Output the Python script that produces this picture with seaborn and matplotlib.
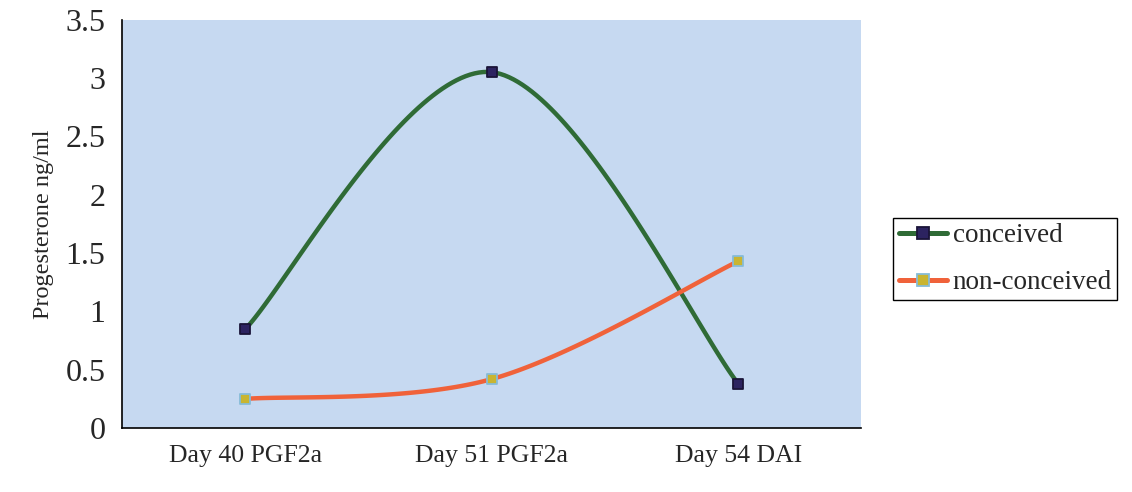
import numpy as np
import pandas as pd
import matplotlib
matplotlib.use("Agg")
import matplotlib.pyplot as plt
from matplotlib.lines import Line2D
import seaborn as sns

# Progesterone levels by sampling day
days = ["Day 40 PGF2a", "Day 51 PGF2a", "Day 54 DAI"]
conceived = [0.85, 3.05, 0.38]
non_conceived = [0.25, 0.42, 1.43]
groups = ["conceived", "non-conceived"]
yticks = [0, 0.5, 1, 1.5, 2, 2.5, 3, 3.5]
ytick_labels = ["0", "0.5", "1", "1.5", "2", "2.5", "3", "3.5"]

line_colors = {"conceived": "#2f6b36", "non-conceived": "#f0623a"}
marker_face = {"conceived": "#2c2360", "non-conceived": "#c9b531"}
marker_edge = {"conceived": "#1a1438", "non-conceived": "#86bcd8"}

sns.set_style("white")
plt.rcParams["font.family"] = ["Liberation Serif", "DejaVu Serif"]

df = pd.DataFrame({
    "day": list(range(len(days))) * 2,
    "value": conceived + non_conceived,
    "group": [groups[0]] * len(days) + [groups[1]] * len(days),
})


def smooth_path(xs, ys, n=60):
    """Bezier smoothing through the given points (spreadsheet-style)."""
    pts = np.column_stack([xs, ys]).astype(float)
    ext = np.vstack([pts[0], pts, pts[-1]])
    out = []
    t = np.linspace(0, 1, n)[:, None]
    for i in range(len(pts) - 1):
        p0, p1 = ext[i + 1], ext[i + 2]
        c1 = p0 + (ext[i + 2] - ext[i]) / 6.0
        c2 = p1 - (ext[i + 3] - ext[i + 1]) / 6.0
        seg = ((1 - t) ** 3) * p0 + 3 * ((1 - t) ** 2) * t * c1 \
            + 3 * (1 - t) * t ** 2 * c2 + t ** 3 * p1
        out.append(seg if i == 0 else seg[1:])
    seg = np.vstack(out)
    return seg[:, 0], seg[:, 1]


fig = plt.figure(figsize=(11.32, 4.92), dpi=100)
ax = fig.add_axes([0.108, 0.13, 0.653, 0.83])
ax.set_facecolor("#c6d9f1")

for g in groups:
    sub = df[df["group"] == g]
    sx, sy = smooth_path(sub["day"].values, sub["value"].values)
    sns.lineplot(x=sx, y=sy, ax=ax, color=line_colors[g], lw=3.2,
                 sort=False, estimator=None, zorder=2)
    sns.scatterplot(data=sub, x="day", y="value", ax=ax, marker="s", s=55,
                    color=marker_face[g], edgecolor=marker_edge[g],
                    linewidth=1.3, zorder=3, legend=False)

ax.set_xlim(-0.5, len(days) - 0.5)
ax.set_ylim(0, 3.5)
ax.set_yticks(yticks)
ax.set_yticklabels(ytick_labels, fontsize=23)
ax.set_xticks(np.arange(-0.5, len(days), 1.0))
ax.set_xticklabels([])
ax.set_xticks(range(len(days)), minor=True)
ax.set_xticklabels(days, minor=True, fontsize=18.5)
ax.tick_params(axis="x", which="minor", length=0, pad=12)
ax.tick_params(axis="x", which="major", direction="out", length=8,
               width=1.2, color="black")
ax.tick_params(axis="y", direction="out", length=8, width=1.2,
               color="black", pad=4)
ax.set_xlabel("")
ax.set_ylabel("Progesterone ng/ml", fontsize=17.5, labelpad=8)

for side in ["top", "right"]:
    ax.spines[side].set_visible(False)
for side in ["left", "bottom"]:
    ax.spines[side].set_color("black")
    ax.spines[side].set_linewidth(1.2)

handles = [
    Line2D([0], [0], color=line_colors[g], lw=3.6, marker="s",
           markersize=8, markerfacecolor=marker_face[g],
           markeredgecolor=marker_edge[g], markeredgewidth=1.3)
    for g in groups
]
leg = fig.legend(handles, groups, loc="upper left",
                 bbox_to_anchor=(0.789, 0.557), fontsize=19.5, frameon=True,
                 fancybox=False, edgecolor="black", framealpha=1,
                 handlelength=1.8, handletextpad=0.2, borderpad=0.2,
                 labelspacing=0.8, borderaxespad=0)
leg.get_frame().set_linewidth(1.0)

fig.savefig("out.png", dpi=100, facecolor="white")
